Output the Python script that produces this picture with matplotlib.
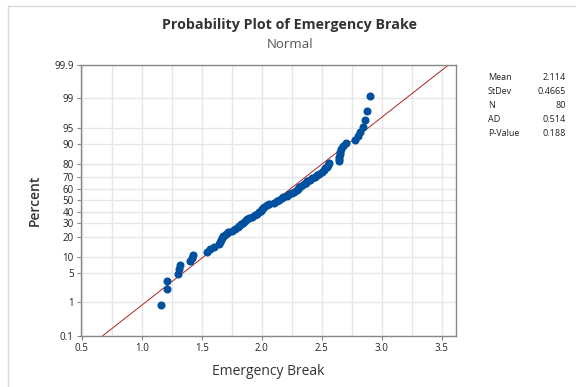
import numpy as np
import matplotlib
matplotlib.use('Agg')
import matplotlib.pyplot as plt
from matplotlib.lines import Line2D
from statistics import NormalDist

# Dados (valores ordenados)
emergency_break = [
    1.16, 1.21, 1.21, 1.30, 1.31, 1.315, 1.40, 1.415, 1.43, 1.54,
    1.57, 1.60, 1.64, 1.655, 1.66, 1.665, 1.68, 1.70, 1.72, 1.75,
    1.78, 1.80, 1.81, 1.83, 1.845, 1.86, 1.875, 1.89, 1.92, 1.94,
    1.96, 1.975, 1.99, 2.00, 2.01, 2.02, 2.04, 2.06, 2.10, 2.125,
    2.14, 2.17, 2.18, 2.21, 2.23, 2.25, 2.27, 2.29, 2.30, 2.31,
    2.33, 2.35, 2.37, 2.38, 2.40, 2.42, 2.44, 2.46, 2.48, 2.50,
    2.52, 2.53, 2.54, 2.555, 2.56, 2.64, 2.64, 2.645, 2.65, 2.655,
    2.66, 2.68, 2.70, 2.78, 2.80, 2.82, 2.84, 2.86, 2.875, 2.90,
]
mean = 2.114
stdev = 0.4665
stat_labels = ['Mean', 'StDev', 'N', 'AD', 'P-Value']
stat_values = ['2.114', '0.4665', '80', '0.514', '0.188']

percent_ticks = [0.1, 1, 5, 10, 20, 30, 40, 50, 60, 70, 80, 90, 95, 99, 99.9]
percent_labels = ['0.1', '1', '5', '10', '20', '30', '40', '50', '60', '70', '80', '90', '95', '99', '99.9']
x_ticks = [0.5, 1.0, 1.5, 2.0, 2.5, 3.0, 3.5]

plt.rcParams['font.family'] = ['Open Sans', 'DejaVu Sans']
nd = NormalDist()

n = len(emergency_break)
z_points = [nd.inv_cdf((i - 0.3) / (n + 0.4)) for i in range(1, n + 1)]
z_ticks = [nd.inv_cdf(p / 100) for p in percent_ticks]
z_lo, z_hi = z_ticks[0], z_ticks[-1]

fig = plt.figure(figsize=(5.76, 3.87), dpi=100)
ax = fig.add_axes([0.140, 0.132, 0.652, 0.700])

# moldura clara do gráfico (Minitab)
fig.add_artist(Line2D([7.5 / 576, 7.5 / 576], [0, 1 - 5.5 / 387], transform=fig.transFigure,
                      color='#DADADA', lw=1))
fig.add_artist(Line2D([7.5 / 576, 1], [1 - 5.5 / 387, 1 - 5.5 / 387], transform=fig.transFigure,
                      color='#DADADA', lw=1))

# linha ajustada
z_line = np.array([z_lo, z_hi])
ax.plot(mean + stdev * z_line, z_line, color='#B22222', lw=0.7, zorder=2)
ax.plot(emergency_break, z_points, 'o', color='#0050A0', ms=4.8, mec='#0050A0', zorder=3)

ax.set_xlim(0.49, 3.62)
ax.set_ylim(z_lo, z_hi)
ax.set_yticks(z_ticks)
ax.set_yticklabels(percent_labels)
ax.set_xticks(x_ticks)
ax.set_xticklabels([f'{t:.1f}' for t in x_ticks])
ax.set_xticks(np.arange(0.75, 3.6, 0.5), minor=True)
ax.tick_params(axis='both', which='major', labelsize=7, color='#888888', length=3, labelcolor='#222222', pad=2)
ax.tick_params(axis='x', which='minor', length=0)
ax.grid(True, which='both', color='#E6E6E6', lw=1)
ax.set_axisbelow(True)
for s in ax.spines.values():
    s.set_color('#888888')
    s.set_linewidth(1)

ax.set_xlabel('Emergency Break', fontsize=10, color='#333333', labelpad=7)
ax.set_ylabel('Percent', fontsize=10, color='#333333', fontweight='semibold', labelpad=9)

fig.text(0.503, 0.935, 'Probability Plot of Emergency Brake', ha='center', va='center',
         fontsize=10.3, fontweight='bold', color='#333333')
fig.text(0.503, 0.885, 'Normal', ha='center', va='center', fontsize=9.5, color='#555555')

for k, (lab, val) in enumerate(zip(stat_labels, stat_values)):
    y = 1 - (77 + 14 * k) / 387
    fig.text(0.847, y, lab, ha='left', va='center', fontsize=6.5, color='#222222')
    fig.text(0.983, y, val, ha='right', va='center', fontsize=6.5, color='#222222')

plt.savefig('out.png', dpi=100)
